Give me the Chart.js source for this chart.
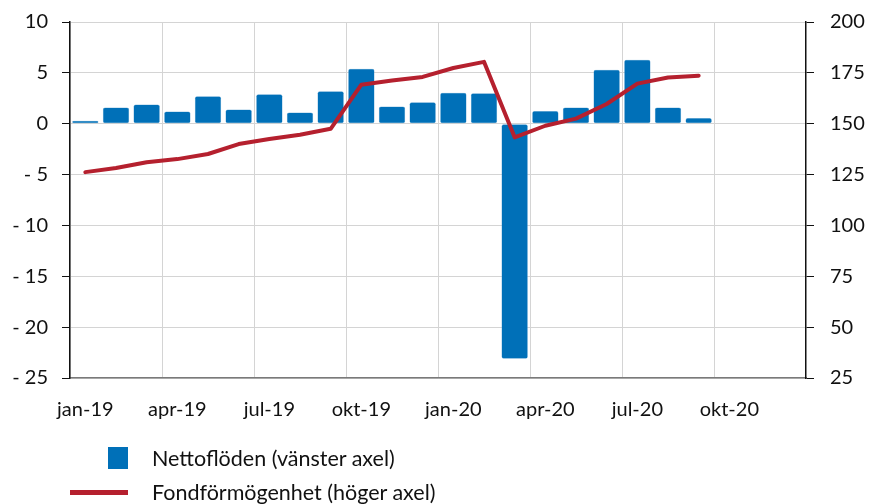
<!DOCTYPE html>
<html>
<head>
<meta charset="utf-8">
<script src="https://cdn.jsdelivr.net/npm/chart.js@4/dist/chart.umd.min.js"></script>
<style>
  html, body { margin: 0; padding: 0; background: #fff; }
  #wrap { position: relative; width: 869px; height: 504px; font-family: Lato, "Noto Sans", sans-serif; }
  canvas { position: absolute; left: 0; top: 0; }
  .leg { position: absolute; left: 152px; font-size: 21.5px; color: #111; line-height: 24px; }
  .sw { position: absolute; }
</style>
</head>
<body>
<div id="wrap">
  <canvas id="chart" width="869" height="504"></canvas>
  <div class="sw" style="left:108px;top:447px;width:20px;height:22px;background:#0070b8"></div>
  <div class="leg" style="top:446px">Nettoflöden (vänster axel)</div>
  <div class="sw" style="left:70px;top:490px;width:58px;height:5px;background:#b5202e"></div>
  <div class="leg" style="top:480px">Fondförmögenhet (höger axel)</div>
</div>
<script>
const months = ["jan-19","feb-19","mar-19","apr-19","maj-19","jun-19","jul-19","aug-19","sep-19","okt-19","nov-19","dec-19",
  "jan-20","feb-20","mar-20","apr-20","maj-20","jun-20","jul-20","aug-20","sep-20","okt-20","nov-20","dec-20"];
const tickMonths = ["jan-19","apr-19","jul-19","okt-19","jan-20","apr-20","jul-20","okt-20"];
const nettoflöden = [0.3, 1.6, 1.9, 1.2, 2.7, 1.4, 2.9, 1.1, 3.2, 5.4, 1.7, 2.1,
  3.05, 3.0, -23.1, 1.25, 1.6, 5.3, 6.3, 1.6, 0.55];
const fondformogenhet = [126.2, 128.2, 131.1, 132.6, 135.1, 140.0, 142.5, 144.6, 147.5, 169.2, 171.2, 173.0,
  177.4, 180.4, 143.3, 149.0, 152.5, 159.7, 169.7, 172.7, 173.6];

const font = { family: "Lato, 'Noto Sans', sans-serif", size: 20 };
const grid = "#d4d4d4";
// let the layout padding alone decide where the plot area starts at the top
const fixV = w => s => { s.width = w; s.paddingTop = 0; s.paddingBottom = 0; };

new Chart(document.getElementById("chart"), {
  data: {
    labels: months,
    datasets: [
      { type: "line", label: "Fondförmögenhet (höger axel)", data: fondformogenhet, yAxisID: "y2",
        borderColor: "#b5202e", borderWidth: 4, pointRadius: 0, tension: 0, order: 0,
        borderCapStyle: "round", borderJoinStyle: "round" },
      { type: "bar", label: "Nettoflöden (vänster axel)", data: nettoflöden, yAxisID: "y",
        backgroundColor: "#0070b8", borderColor: "#5a9fd0", borderWidth: 0.5, borderRadius: 2,
        borderSkipped: false, categoryPercentage: 1, barPercentage: 0.86, order: 1 }
    ]
  },
  options: {
    responsive: false,
    animation: false,
    layout: { padding: { top: 22, left: 0, right: 0, bottom: 0 } },
    plugins: { legend: { display: false }, tooltip: { enabled: false } },
    scales: {
      x: {
        offset: true,
        grid: { offset: true, drawTicks: false,
          color: ctx => ctx.index % 3 === 0 ? grid : "rgba(0,0,0,0)" },
        border: { color: "#7a7a7a", width: 1.5 },
        ticks: { autoSkip: false, maxRotation: 0, padding: 20, color: "#111", font,
          callback: (v, i) => tickMonths.includes(months[i]) ? months[i] : "" },
        afterFit: s => { s.height = 126; }
      },
      y: {
        position: "left", min: -25, max: 10,
        grid: { color: grid, tickColor: "#111", tickLength: 8 },
        border: { color: "#111", width: 1.5 },
        ticks: { stepSize: 5, padding: 14, color: "#111", font,
          callback: v => v < 0 ? "- " + Math.abs(v) : v },
        afterFit: fixV(70)
      },
      y2: {
        position: "right", min: 25, max: 200,
        grid: { drawOnChartArea: false, tickColor: "#111", tickLength: 8 },
        border: { color: "#111", width: 1.5 },
        ticks: { stepSize: 25, padding: 16, color: "#111", font },
        afterFit: fixV(63)
      }
    }
  }
});
</script>
</body>
</html>
